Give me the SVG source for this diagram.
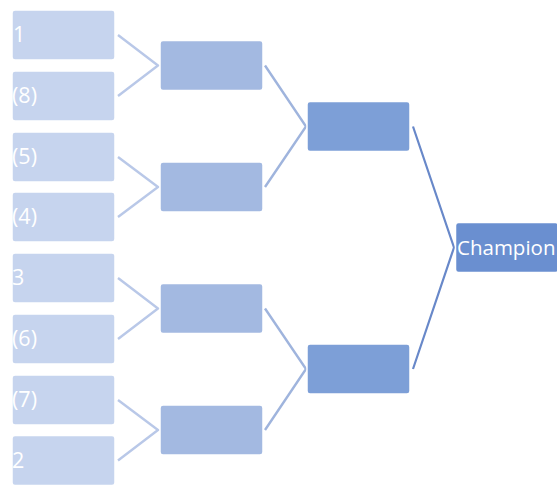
<svg xmlns="http://www.w3.org/2000/svg" width="557" height="485" viewBox="0 0 557 485">
<style>
  rect { stroke: #ffffff; stroke-width: 1.5; }
  .leaf rect { fill: #c6d4ee; }
  .r1 rect { fill: #a3b9e1; }
  .r2 rect { fill: #7d9fd7; }
  .champ rect { fill: #6a8fd0; }
  text { font-family: "Open Sans", "Noto Sans", sans-serif; font-size: 21.5px; fill: #ffffff; }
  .champ text { font-size: 20.5px; }
  .c0 { stroke: #b9c8e8; stroke-width: 2.4; fill: none; }
  .c1 { stroke: #9fb4dd; stroke-width: 2.4; fill: none; }
  .c2 { stroke: #6888c9; stroke-width: 2.2; fill: none; }
</style>
<rect x="0" y="0" width="557" height="485" fill="#ffffff" stroke="none"/>
<g id="connectors">
  <polyline class="c0" points="118,35 158,65.5 118,96"/>
  <polyline class="c0" points="118,157 158,187 118,217"/>
  <polyline class="c0" points="118,278 158,308.5 118,339"/>
  <polyline class="c0" points="118,400 158,430 118,460.5"/>
  <polyline class="c1" points="265,65.5 306,126.5 265,187"/>
  <polyline class="c1" points="265,308.5 306,369 265,430"/>
  <polyline class="c2" points="413,126.5 454,247.5 413,369"/>
</g>
<g id="seed1" class="leaf"><rect x="12" y="10" width="103" height="50" rx="3"/><text x="13" y="42">1</text></g>
<g id="seed8" class="leaf"><rect x="12" y="71" width="103" height="50" rx="3"/><text x="12" y="103">(8)</text></g>
<g id="seed5" class="leaf"><rect x="12" y="132" width="103" height="50" rx="3"/><text x="12" y="164">(5)</text></g>
<g id="seed4" class="leaf"><rect x="12" y="192" width="103" height="50" rx="3"/><text x="12" y="224">(4)</text></g>
<g id="seed3" class="leaf"><rect x="12" y="253" width="103" height="50" rx="3"/><text x="12" y="285">3</text></g>
<g id="seed6" class="leaf"><rect x="12" y="314" width="103" height="50" rx="3"/><text x="12" y="346">(6)</text></g>
<g id="seed7" class="leaf"><rect x="12" y="375" width="103" height="50" rx="3"/><text x="12" y="407">(7)</text></g>
<g id="seed2" class="leaf"><rect x="12" y="435.5" width="103" height="50" rx="3"/><text x="12" y="467.5">2</text></g>
<g id="r1a" class="r1"><rect x="160" y="40.5" width="103" height="50" rx="3"/></g>
<g id="r1b" class="r1"><rect x="160" y="162" width="103" height="50" rx="3"/></g>
<g id="r1c" class="r1"><rect x="160" y="283.5" width="103" height="50" rx="3"/></g>
<g id="r1d" class="r1"><rect x="160" y="405" width="103" height="50" rx="3"/></g>
<g id="r2a" class="r2"><rect x="307" y="101.5" width="103" height="50" rx="3"/></g>
<g id="r2b" class="r2"><rect x="307" y="344" width="103" height="50" rx="3"/></g>
<g id="champion" class="champ"><rect x="455.5" y="222.5" width="103" height="50" rx="3"/><text x="457" y="254.5">Champion</text></g>
</svg>
